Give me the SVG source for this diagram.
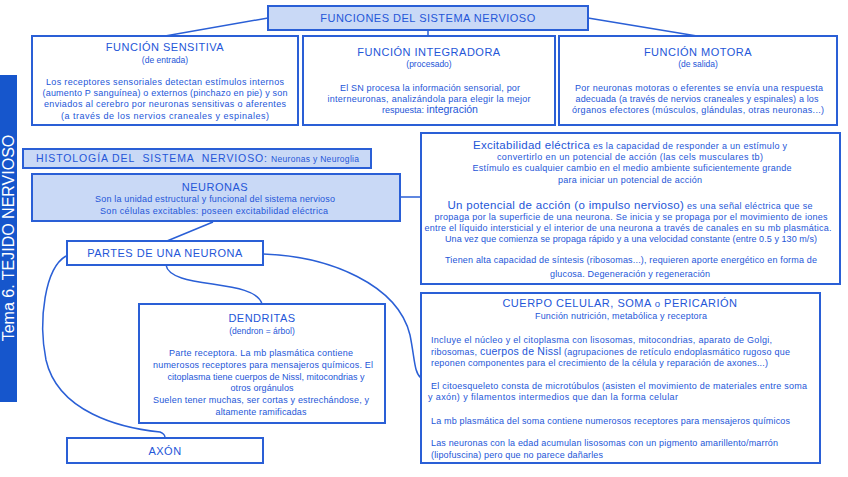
<svg xmlns="http://www.w3.org/2000/svg" width="848" height="477" viewBox="0 0 848 477">
<style>
text{font-family:"Liberation Sans",Arial,sans-serif;fill:#2456d8;}
.box{fill:#ffffff;stroke:#2a5fd6;stroke-width:2;}
.hbox{fill:#c9d9f6;stroke:#2a5fd6;stroke-width:2;}
.conn{fill:none;stroke:#2a5fd6;stroke-width:1.5;}
.t{font-size:11px;text-anchor:middle;letter-spacing:0.5px;}
.s{font-size:8.5px;text-anchor:middle;}
.b{font-size:9px;text-anchor:middle;}
.l{font-size:9px;}
.big{font-size:11.5px;}
</style>
<rect x="0" y="75" width="17" height="327" fill="#1656cc"/>
<text transform="translate(14,238) rotate(-90)" style="font-size:16px;text-anchor:middle;fill:#ffffff">Tema 6. TEJIDO NERVIOSO</text>
<g id="connectors">
<line class="conn" x1="268" y1="18" x2="165" y2="36"/>
<line class="conn" x1="428" y1="30" x2="428" y2="36"/>
<line class="conn" x1="588" y1="18" x2="697" y2="36"/>
<line class="conn" x1="400" y1="197" x2="421" y2="197"/>
<line class="conn" x1="213" y1="222" x2="167" y2="241"/>
<path class="conn" d="M66,256 C45,268 38,320 46,360 C58,412 120,428 160,432 C165,434 165,436 165,438"/>
<path class="conn" d="M166,265 C170,290 255,278 262,304"/>
<path class="conn" d="M263,254 C330,256 398,285 410,335 C415,360 414,372 421,378"/>
</g>
<g id="funciones">
<rect class="hbox" x="268" y="6" width="320" height="24"/>
<text class="t" x="428" y="22">FUNCIONES DEL SISTEMA NERVIOSO</text>
</g>
<g id="sensitiva">
<rect class="box" x="32" y="36" width="266" height="89"/>
<text class="t" x="165" y="51">FUNCIÓN SENSITIVA</text>
<text class="s" x="165" y="63">(de entrada)</text>
<text class="b" x="165" y="85" textLength="238">Los receptores sensoriales detectan estímulos internos</text>
<text class="b" x="165" y="96" textLength="245">(aumento P sanguínea) o externos (pinchazo en pie) y son</text>
<text class="b" x="165" y="107" textLength="242">enviados al cerebro por neuronas sensitivas o aferentes</text>
<text class="b" x="165" y="119" textLength="208">(a través de los nervios craneales y espinales)</text>
</g>
<g id="integradora">
<rect class="box" x="303" y="36" width="252" height="89"/>
<text class="t" x="429" y="56">FUNCIÓN INTEGRADORA</text>
<text class="s" x="429" y="67">(procesado)</text>
<text class="b" x="430" y="91" textLength="180">El SN procesa la información sensorial, por</text>
<text class="b" x="429" y="102" textLength="203">interneuronas, analizándola para elegir la mejor</text>
<text class="b" x="430" y="113">respuesta: <tspan style="font-size:10.5px">integración</tspan></text>
</g>
<g id="motora">
<rect class="box" x="559" y="36" width="278" height="89"/>
<text class="t" x="698" y="56">FUNCIÓN MOTORA</text>
<text class="s" x="698" y="67">(de salida)</text>
<text class="b" x="699" y="91" textLength="248">Por neuronas motoras o eferentes se envía una respuesta</text>
<text class="b" x="697" y="102" textLength="243">adecuada (a través de nervios craneales y espinales) a los</text>
<text class="b" x="698" y="113" textLength="252">órganos efectores (músculos, glándulas, otras neuronas...)</text>
</g>
<g id="histologia">
<rect class="hbox" x="23" y="149" width="348" height="19"/>
<text x="36" y="162" textLength="231" style="font-size:10.5px;white-space:pre">HISTOLOGÍA DEL  SISTEMA  NERVIOSO:</text>
<text x="271" y="162" textLength="88" style="font-size:8.5px">Neuronas y Neuroglia</text>
</g>
<g id="neuronas">
<rect class="hbox" x="32" y="174" width="368" height="47"/>
<text class="t" x="215" y="191">NEURONAS</text>
<text class="b" x="215" y="202" textLength="240">Son la unidad estructural y funcional del sistema nervioso</text>
<text class="b" x="214" y="214" textLength="228">Son células excitables: poseen excitabilidad eléctrica</text>
</g>
<g id="partes">
<rect class="box" x="67" y="241" width="196" height="24"/>
<text class="t" x="165" y="257">PARTES DE UNA NEURONA</text>
</g>
<g id="excitabilidad">
<rect class="box" x="421" y="133" width="419" height="151"/>
<text class="b" x="630" y="149" textLength="314"><tspan class="big">Excitabilidad eléctrica</tspan> es la capacidad de responder a un estímulo y</text>
<text class="b" x="630" y="160" textLength="266">convertirlo en un potencial de acción (las cels musculares tb)</text>
<text class="b" x="632" y="171" textLength="319">Estímulo es cualquier cambio en el medio ambiente suficientemente grande</text>
<text class="b" x="630" y="183" textLength="144">para iniciar un potencial de acción</text>
<text class="b" x="630" y="209" textLength="365"><tspan class="big">Un potencial de acción (o impulso nervioso)</tspan> es una señal eléctrica que se</text>
<text class="b" x="631" y="220" textLength="393">propaga por la superficie de una neurona. Se inicia y se propaga por el movimiento de iones</text>
<text class="b" x="628" y="231" textLength="407">entre el líquido intersticial y el interior de una neurona a través de canales en su mb plasmática.</text>
<text class="b" x="631" y="242" textLength="372">Una vez que comienza se propaga rápido y a una velocidad constante (entre 0.5 y 130 m/s)</text>
<text class="b" x="631" y="263" textLength="372">Tienen alta capacidad de síntesis (ribosomas...), requieren aporte energético en forma de</text>
<text class="b" x="630" y="277" textLength="160">glucosa. Degeneración y regeneración</text>
</g>
<g id="cuerpo">
<rect class="box" x="421" y="293" width="399" height="170"/>
<text class="t" x="620" y="307">CUERPO CELULAR, SOMA <tspan style="font-size:9.5px">o</tspan> PERICARIÓN</text>
<text class="b" x="621" y="319" textLength="172">Función nutrición, metabólica y receptora</text>
<text class="l" x="431" y="343" textLength="341">Incluye el núcleo y el citoplasma con lisosomas, mitocondrias, aparato de  Golgi,</text>
<text class="l" x="431" y="355" textLength="359">ribosomas, <tspan style="font-size:10.5px">cuerpos de Nissl</tspan> (agrupaciones de retículo endoplasmático rugoso que</text>
<text class="l" x="431" y="366" textLength="337">reponen componentes para el crecimiento de la célula y reparación de axones...)</text>
<text class="l" x="431" y="389" textLength="376">El citoesqueleto consta de microtúbulos (asisten el movimiento de materiales entre soma</text>
<text class="l" x="428" y="400" textLength="250">y axón) y filamentos intermedios que dan la forma celular</text>
<text class="l" x="431" y="424" textLength="359">La mb plasmática del soma contiene numerosos receptores para mensajeros químicos</text>
<text class="l" x="431" y="446" textLength="347">Las neuronas con la edad acumulan lisosomas con un pigmento amarillento/marrón</text>
<text class="l" x="431" y="458" textLength="172">(lipofuscina) pero que no parece dañarles</text>
</g>
<g id="dendritas">
<rect class="box" x="139" y="304" width="246" height="119"/>
<text class="t" x="262" y="322">DENDRITAS</text>
<text class="s" x="262" y="334">(dendron = árbol)</text>
<text class="b" x="261" y="356" textLength="184">Parte receptora. La mb plasmática contiene</text>
<text class="b" x="263" y="368" textLength="220">numerosos receptores para mensajeros químicos. El</text>
<text class="b" x="266" y="380" textLength="197">citoplasma tiene cuerpos de Nissl, mitocondrias y</text>
<text class="b" x="262" y="391" textLength="63">otros orgánulos</text>
<text class="b" x="261" y="403" textLength="216">Suelen tener muchas, ser cortas y estrechándose, y</text>
<text class="b" x="261" y="415" textLength="91">altamente ramificadas</text>
</g>
<g id="axon">
<rect class="box" x="67" y="438" width="196" height="25"/>
<text class="t" x="165" y="455">AXÓN</text>
</g>
</svg>
